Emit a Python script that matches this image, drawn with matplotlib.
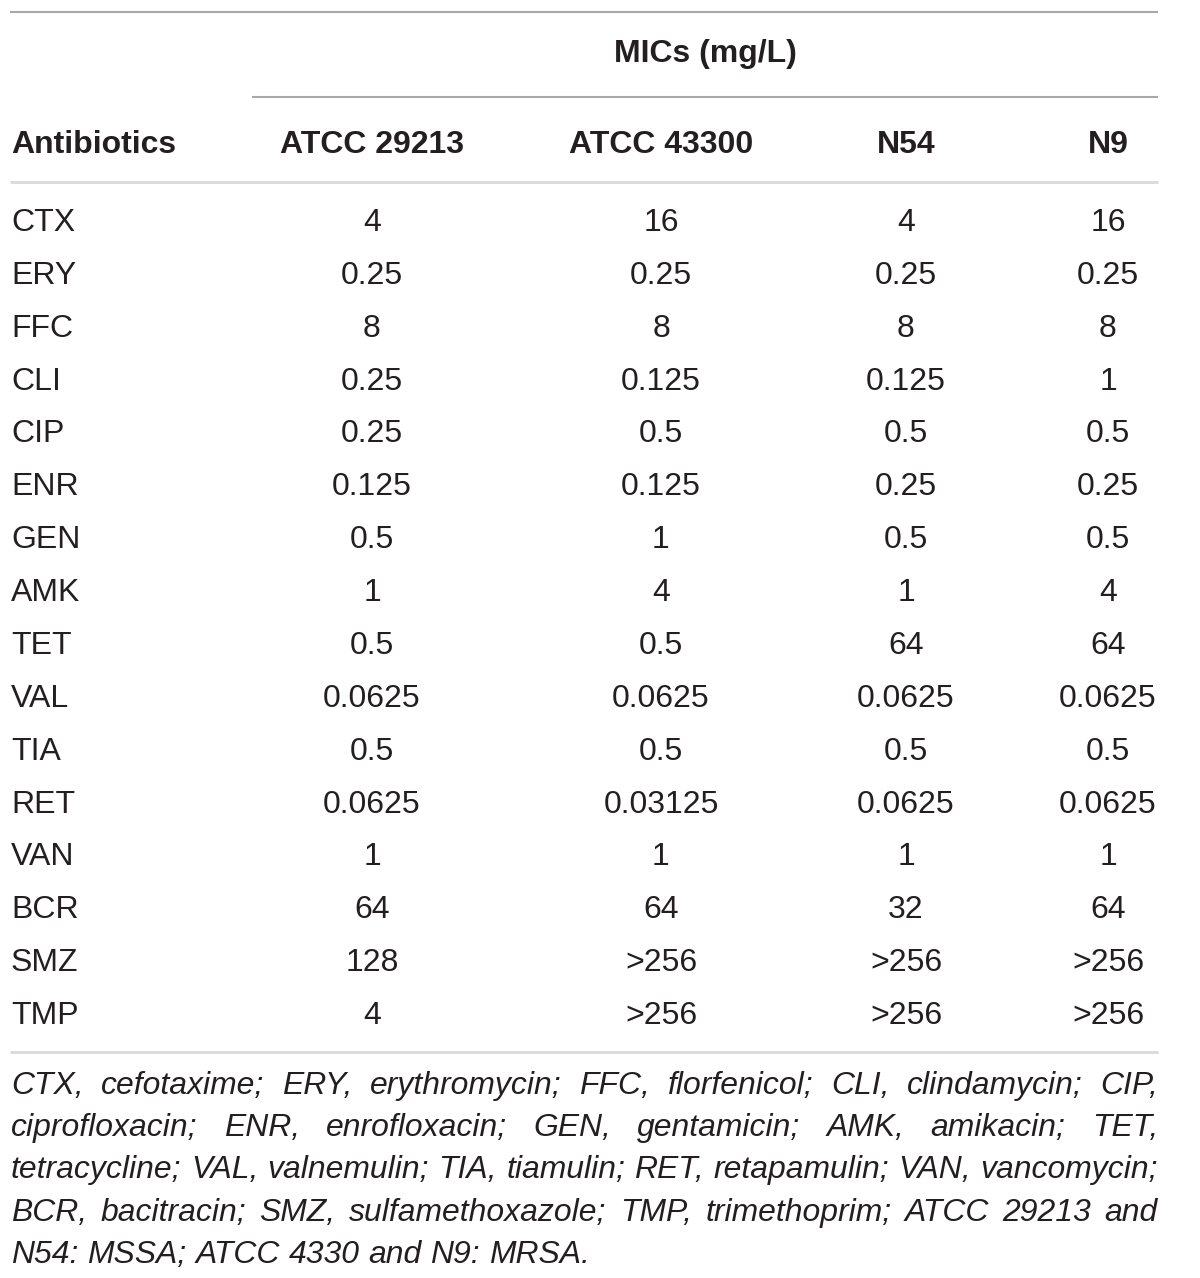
import matplotlib
matplotlib.use("Agg")
import matplotlib.pyplot as plt

# ---- data ----
antibiotics = ["CTX", "ERY", "FFC", "CLI", "CIP", "ENR", "GEN", "AMK", "TET",
               "VAL", "TIA", "RET", "VAN", "BCR", "SMZ", "TMP"]
strains = ["ATCC 29213", "ATCC 43300", "N54", "N9"]
atcc29213 = ["4", "0.25", "8", "0.25", "0.25", "0.125", "0.5", "1", "0.5",
             "0.0625", "0.5", "0.0625", "1", "64", "128", "4"]
atcc43300 = ["16", "0.25", "8", "0.125", "0.5", "0.125", "1", "4", "0.5",
             "0.0625", "0.5", "0.03125", "1", "64", ">256", ">256"]
n54 = ["4", "0.25", "8", "0.125", "0.5", "0.25", "0.5", "1", "64",
       "0.0625", "0.5", "0.0625", "1", "32", ">256", ">256"]
n9 = ["16", "0.25", "8", "1", "0.5", "0.25", "0.5", "4", "64",
      "0.0625", "0.5", "0.0625", "1", "64", ">256", ">256"]
group_header = "MICs (mg/L)"
first_header = "Antibiotics"
footnote_lines = [
    "CTX, cefotaxime; ERY, erythromycin; FFC, florfenicol; CLI, clindamycin; CIP,",
    "ciprofloxacin; ENR, enrofloxacin; GEN, gentamicin; AMK, amikacin; TET,",
    "tetracycline; VAL, valnemulin; TIA, tiamulin; RET, retapamulin; VAN, vancomycin;",
    "BCR, bacitracin; SMZ, sulfamethoxazole; TMP, trimethoprim; ATCC 29213 and",
    "N54: MSSA; ATCC 4330 and N9: MRSA.",
]
columns = [atcc29213, atcc43300, n54, n9]

# ---- layout / style ----
W, H = 1200, 1278
FONT = "Liberation Sans"
TXT = "#231f20"
SIZE = 23
left, right = 11, 1158
col_x = [372, 661, 906, 1108]
row_base0, row_step = 231, 52.87

fig = plt.figure(figsize=(W / 100, H / 100), dpi=100)
ax = fig.add_axes([0, 0, 1, 1])
ax.set_xlim(0, W)
ax.set_ylim(H, 0)
ax.axis("off")

# rules
ax.plot([left - 1, right], [12, 12], color="#a8a8a8", lw=1.5, solid_capstyle="butt")
ax.plot([252, right], [97, 97], color="#a8a8a8", lw=1.5, solid_capstyle="butt")
ax.plot([left - 1, right], [182, 182], color="#d9d9d9", lw=2.0, solid_capstyle="butt")
ax.plot([left - 1, right], [1052, 1052], color="#d9d9d9", lw=2.0, solid_capstyle="butt")

# headers
ax.text((252 + right) / 2, 62, group_header, ha="center", va="baseline",
        fontsize=SIZE, fontweight="bold", family=FONT, color=TXT)
ax.text(left, 153, first_header, ha="left", va="baseline",
        fontsize=SIZE, fontweight="bold", family=FONT, color=TXT)
for x, s in zip(col_x, strains):
    ax.text(x, 153, s, ha="center", va="baseline",
            fontsize=SIZE, fontweight="bold", family=FONT, color=TXT)

# body
for i, ab in enumerate(antibiotics):
    yb = row_base0 + i * row_step
    ax.text(left, yb, ab, ha="left", va="baseline", fontsize=SIZE,
            family=FONT, color=TXT)
    for x, col in zip(col_x, columns):
        ax.text(x, yb, col[i], ha="center", va="baseline", fontsize=SIZE,
                family=FONT, color=TXT)

# footnote, justified
renderer = fig.canvas.get_renderer()
fn_base0, fn_step = 1094, 42.2

def text_width(s, size):
    t = ax.text(0, 0, s, fontsize=size, family=FONT, style="italic")
    bb = t.get_window_extent(renderer=renderer)
    t.remove()
    return bb.width

# choose size so the tightest line (line 3) nearly fills the measure
ref_w = text_width(footnote_lines[2], 20)
FN_SIZE = 20 * (right - left - 6) / ref_w

space_w = text_width("a b", FN_SIZE) - text_width("ab", FN_SIZE)
for li, line in enumerate(footnote_lines):
    yb = fn_base0 + li * fn_step
    words = line.split(" ")
    widths = [text_width(w, FN_SIZE) for w in words]
    last = li == len(footnote_lines) - 1
    if last or len(words) < 2:
        gap = space_w
    else:
        gap = (right - left - sum(widths)) / (len(words) - 1)
    x = left
    for w, wd in zip(words, widths):
        ax.text(x, yb, w, ha="left", va="baseline", fontsize=FN_SIZE,
                family=FONT, style="italic", color=TXT)
        x += wd + gap

fig.savefig("out.png", dpi=100, facecolor="white")
